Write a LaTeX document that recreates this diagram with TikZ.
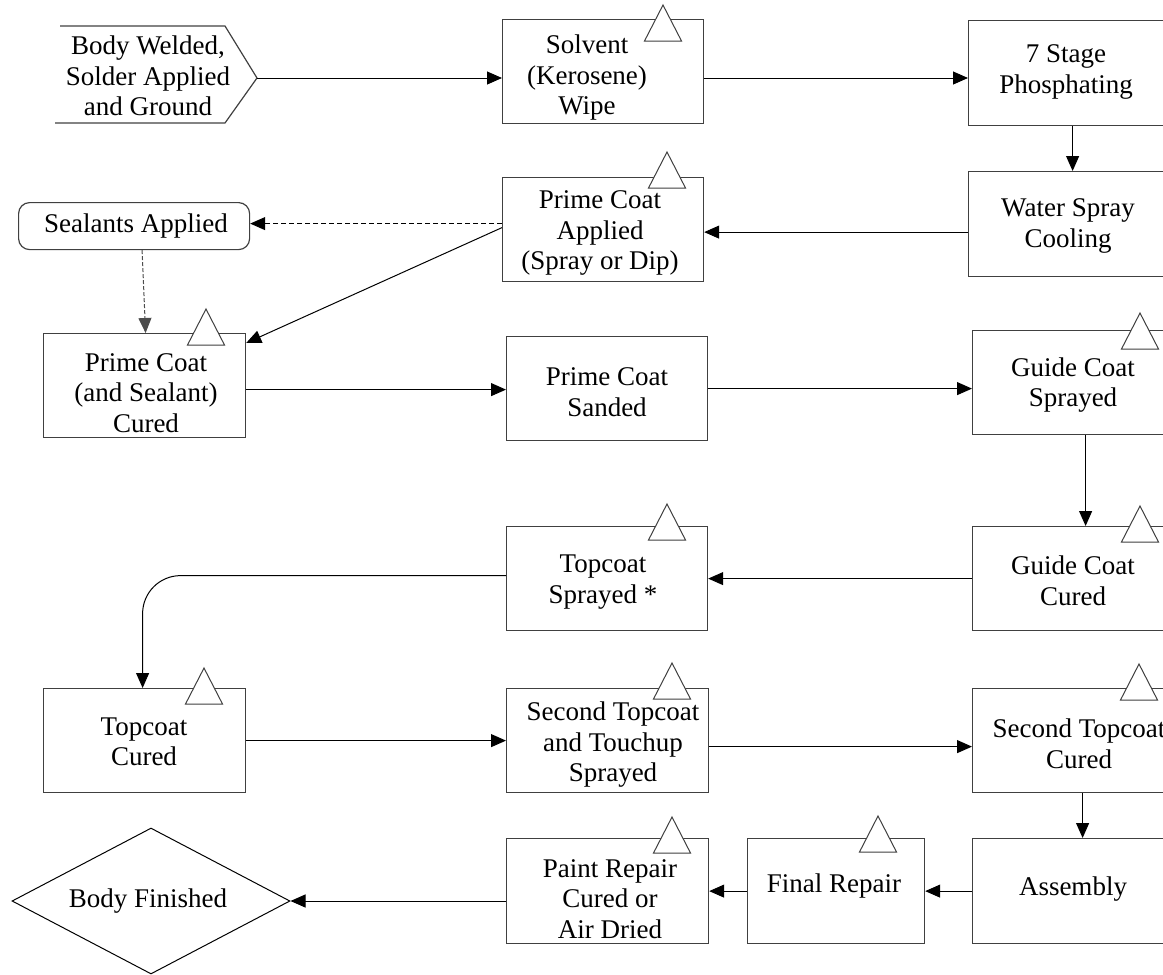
\documentclass[tikz,border=0pt]{standalone}
\usepackage{fontspec}
\setmainfont{Liberation Serif}
\usetikzlibrary{arrows.meta,shapes.geometric}
\newcommand\ttri[2]{\draw[tri] ({#1-18.5},#2) -- (#1,{#2-36}) -- ({#1+18.5},#2) -- cycle;}
\begin{document}
\begin{tikzpicture}[x=1pt,y=-1pt,
  box/.style={draw=black!75,line width=1.2pt,rectangle,inner sep=0pt,anchor=north west},
  txt/.style={font=\fontsize{27}{30.5}\selectfont,align=center,inner sep=0pt},
  arr/.style={draw=black,line width=1pt,-{Triangle[length=15pt,width=13pt]}},
  dsh/.style={dash pattern=on 5pt off 3pt},
  tri/.style={draw=black!75,line width=1pt,fill=white}]
\path[use as bounding box,clip] (0,0) rectangle (1163,975);

% start shape
\draw[draw=black!75,line width=1.2pt] (60,26) -- (225,26) -- (257,78) -- (225,123) -- (55,123);
\coordinate (bw) at (257,78);
\node[txt] (bw-t) at (148,76) {Body Welded,\\Solder Applied\\and Ground};

% boxes
\node[box,minimum width=201pt,minimum height=104pt] (sw) at (502,19) {};
\node[box,minimum width=201pt,minimum height=105pt] (ph) at (968,20) {};
\node[box,minimum width=201pt,minimum height=105pt] (wa) at (968,171) {};
\node[box,minimum width=201pt,minimum height=104pt] (pa) at (502,177) {};
\node[box,rounded corners=11pt,minimum width=231pt,minimum height=47pt] (sa) at (18,202) {};
\node[box,minimum width=202pt,minimum height=104pt] (pc) at (43,333) {};
\node[box,minimum width=201pt,minimum height=104pt] (ps) at (506,336) {};
\node[box,minimum width=202pt,minimum height=104pt] (gs) at (972,330) {};
\node[box,minimum width=202pt,minimum height=104pt] (gc) at (972,526) {};
\node[box,minimum width=201pt,minimum height=104pt] (ts) at (506,526) {};
\node[box,minimum width=202pt,minimum height=104pt] (tc) at (43,688) {};
\node[box,minimum width=202pt,minimum height=104pt] (st) at (506,688) {};
\node[box,minimum width=214pt,minimum height=104pt] (sc) at (972,688) {};
\node[box,minimum width=214pt,minimum height=105pt] (as) at (972,838) {};
\node[box,minimum width=177pt,minimum height=105pt] (fr) at (747,838) {};
\node[box,minimum width=202pt,minimum height=105pt] (pr) at (506,838) {};
\node[draw=black,line width=1pt,diamond,inner sep=0pt,minimum width=278pt,minimum height=146pt] (bf) at (151,901) {};

% texts
\node[txt] (sw-t) at (587,78) {Solvent\\(Kerosene)\\Wipe};
\node[txt] (ph-t) at (1066,72) {7 Stage\\Phosphating};
\node[txt] (wa-t) at (1068,226) {Water Spray\\Cooling};
\node[txt] (pa-t) at (600,233) {Prime Coat\\Applied\\(Spray or Dip)};
\node[txt] (sa-t) at (136,226) {Sealants Applied};
\node[txt] (pc-t) at (146,393) {Prime Coat\\(and Sealant)\\Cured};
\node[txt] (ps-t) at (607,392) {Prime Coat\\Sanded};
\node[txt] (gs-t) at (1073,385) {Guide Coat\\Sprayed};
\node[txt] (gc-t) at (1073,581) {Guide Coat\\Cured};
\node[txt] (ts-t) at (603,582) {Topcoat\\Sprayed *};
\node[txt] (tc-t) at (144,742) {Topcoat\\Cured};
\node[txt] (st-t) at (613,745) {Second Topcoat\\and Touchup\\Sprayed};
\node[txt] (sc-t) at (1079,744) {Second Topcoat\\Cured};
\node[txt] (as-t) at (1073,889) {Assembly};
\node[txt] (fr-t) at (834,886) {Final Repair};
\node[txt] (pr-t) at (610,899) {Paint Repair\\Cured or\\Air Dried};
\node[txt] (bf-t) at (148,901) {Body Finished};

% triangles
\ttri{663}{41}
\ttri{667}{188}
\ttri{206}{345}
\ttri{667}{540}
\ttri{204}{704}
\ttri{672}{699}
\ttri{672}{853}
\ttri{878}{852}
\ttri{1140}{349}
\ttri{1140}{542}
\ttri{1139}{700}

% connectors
\draw[arr] (bw) -- (bw -| sw.west);
\coordinate (c1) at (sw.east |- bw);
\draw[arr] (c1) -- (c1 -| ph.west);
\draw[arr] ([xshift=3.5pt]ph.south) -- ([xshift=3.5pt]wa.north);
\coordinate (c2) at ([yshift=-8pt]wa.west);
\draw[arr] (c2) -- (c2 -| pa.east);
\coordinate (c3) at ([yshift=6pt]pa.west);
\draw[arr,dsh] (c3) -- (c3 -| sa.east);
\coordinate (c4) at ([yshift=2pt]pa.west);
\draw[arr] (c4) -- ([yshift=-10pt]pc.north east);
\draw[arr,dash pattern=on 4pt off 2pt,draw=black!70] ([xshift=8pt]sa.south) -- ([xshift=1pt]pc.north);
\coordinate (c5) at ([yshift=-4pt]pc.east);
\draw[arr] (c5) -- (c5 -| ps.west);
\draw[arr] (ps.east) -- (ps.east -| gs.west);
\coordinate (c6) at ([xshift=12pt]gs.south);
\draw[arr] (c6) -- (c6 |- gc.north);
\draw[arr] (gc.west) -- (gc.west -| ts.east);
\coordinate (c7) at ([yshift=3pt]ts.west);
\draw[arr,rounded corners=38pt] (c7) -| ([xshift=-2pt]tc.north);
\draw[arr] (tc.east) -- (tc.east -| st.west);
\coordinate (c8) at ([yshift=-6pt]st.east);
\draw[arr] (c8) -- (c8 -| sc.west);
\coordinate (c9) at ([xshift=3pt]sc.south);
\draw[arr] (c9) -- (c9 |- as.north);
\draw[arr] (as.west) -- (as.west -| fr.east);
\draw[arr] (fr.west) -- (fr.west -| pr.east);
\draw[arr] (bf.east -| pr.west) -- (bf.east);
\end{tikzpicture}
\end{document}
